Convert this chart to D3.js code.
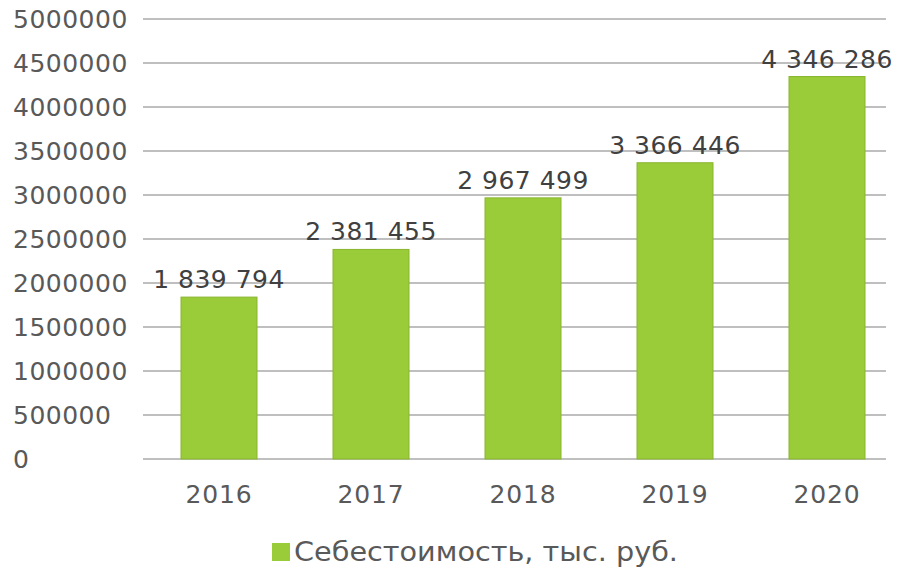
<!DOCTYPE html>
<html>
<head>
<meta charset="utf-8">
<script src="https://cdn.jsdelivr.net/npm/d3@7"></script>
<style>
  body { margin: 0; background: #fff; }
  text { font-family: "DejaVu Sans", sans-serif; }
</style>
</head>
<body>
<svg id="chart" width="900" height="574"></svg>
<script>
'use strict';

const years = ['2016', '2017', '2018', '2019', '2020'];
const costs = [1839794, 2381455, 2967499, 3366446, 4346286];
const yTicks = [0, 500000, 1000000, 1500000, 2000000, 2500000, 3000000, 3500000, 4000000, 4500000, 5000000];
const seriesName = 'Себестоимость, тыс. руб.';

const svg = d3.select('#chart');
const plotLeft = 143, plotRight = 886, plotTop = 19, plotBottom = 459;

// category step of 152px, bars half as wide
let x = d3.scaleBand()
    .domain(years)
    .range([plotLeft, plotLeft + 760])
    .paddingInner(0.5)
    .paddingOuter(0.25);

let y = d3.scaleLinear()
    .domain([0, 5000000])
    .range([plotBottom, plotTop]);

// gridlines
svg.append('g')
    .selectAll('line')
    .data(yTicks)
    .join('line')
    .attr('x1', plotLeft)
    .attr('x2', plotRight)
    .attr('y1', d => y(d))
    .attr('y2', d => y(d))
    .attr('stroke', '#bfbfbf')
    .attr('stroke-width', 2);

// y labels (left aligned)
svg.append('g')
    .selectAll('text')
    .data(yTicks)
    .join('text')
    .attr('x', 13)
    .attr('y', d => y(d) + 9)
    .attr('fill', '#595959')
    .attr('font-size', 25)
    .attr('letter-spacing', 0.5)
    .text(d => d);

// bars
svg.append('g')
    .selectAll('rect')
    .data(costs)
    .join('rect')
    .attr('x', (d, i) => x(years[i]))
    .attr('y', d => y(d))
    .attr('width', x.bandwidth())
    .attr('height', d => plotBottom - y(d))
    .attr('fill', '#9acb38')
    .attr('stroke', '#8ab52f')
    .attr('stroke-width', 1);

// value labels
const fmt = d3.formatLocale({ thousands: ' ', grouping: [3], decimal: ',', currency: ['', ''] }).format(',');
svg.append('g')
    .selectAll('text')
    .data(costs)
    .join('text')
    .attr('x', (d, i) => x(years[i]) + x.bandwidth() / 2)
    .attr('y', d => y(d) - 9)
    .attr('text-anchor', 'middle')
    .attr('fill', '#404040')
    .attr('font-size', 25)
    .attr('letter-spacing', 0.5)
    .text(d => fmt(d));

// x labels
svg.append('g')
    .selectAll('text')
    .data(years)
    .join('text')
    .attr('x', d => x(d) + x.bandwidth() / 2)
    .attr('y', 503)
    .attr('text-anchor', 'middle')
    .attr('fill', '#595959')
    .attr('font-size', 25)
    .attr('letter-spacing', 0.8)
    .text(d => d);

// legend
const legend = svg.append('g');
legend.append('rect')
    .attr('x', 272)
    .attr('y', 543)
    .attr('width', 18)
    .attr('height', 18)
    .attr('fill', '#9acb38');
legend.append('text')
    .attr('x', 294)
    .attr('y', 561)
    .attr('fill', '#595959')
    .attr('font-size', 26)
    .attr('textLength', 384)
    .attr('lengthAdjust', 'spacingAndGlyphs')
    .text(seriesName);
</script>
</body>
</html>
